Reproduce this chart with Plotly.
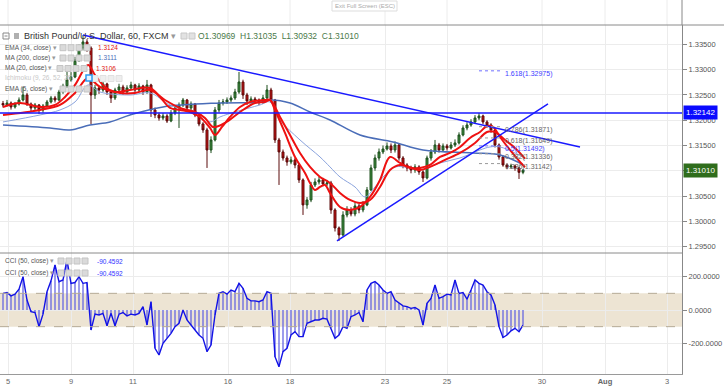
import plotly.graph_objects as go

# ---------------- data ----------------
closes = [1.32301,1.32340,1.32261,1.32320,1.32399,1.32498,1.32320,1.32241,1.32301,1.32202,
          1.32281,1.32360,1.32439,1.32399,1.32558,1.32676,1.32795,1.32854,1.33190,1.33427,
          1.33546,1.33427,1.32498,1.32637,1.32597,1.32716,1.32558,1.32439,1.32597,1.32656,
          1.32558,1.32637,1.32696,1.32597,1.32676,1.32558,1.32696,1.32202,1.32103,1.32044,
          1.32083,1.31984,1.32143,1.32241,1.32301,1.32399,1.32241,1.32320,1.32103,1.31925,
          1.31807,1.31411,1.31609,1.32202,1.32340,1.32360,1.32399,1.32439,1.32558,1.32755,
          1.32498,1.32380,1.32419,1.32399,1.32360,1.32439,1.32597,1.32399,1.31609,1.31372,
          1.31253,1.31174,1.31214,1.31115,1.30819,1.30325,1.30423,1.30720,1.30779,1.30819,
          1.30740,1.30759,1.30226,1.29870,1.29732,1.30127,1.30226,1.30147,1.30305,1.30226,
          1.30325,1.30621,1.31056,1.31253,1.31372,1.31431,1.31490,1.31411,1.31510,1.31253,
          1.31115,1.31056,1.31016,1.31076,1.30977,1.30858,1.31253,1.31372,1.31510,1.31411,
          1.31490,1.31451,1.31510,1.31550,1.31708,1.31846,1.31905,1.31965,1.32044,1.32083,
          1.31965,1.31905,1.31807,1.31510,1.31273,1.31115,1.31076,1.31095,1.31056,1.30969,
          1.31010]
highs = [1.32380,1.32400,1.32370,1.32360,1.32450,1.32656,1.32540,1.32350,1.32340,1.32320,
         1.32320,1.32400,1.32480,1.32480,1.32600,1.32720,1.32992,1.32950,1.33250,1.33500,
         1.33684,1.33600,1.33460,1.32700,1.32680,1.32780,1.32740,1.32600,1.32640,1.32720,
         1.32700,1.32690,1.32760,1.32720,1.32730,1.32700,1.32795,1.32720,1.32250,1.32150,
         1.32140,1.32120,1.32200,1.32300,1.32350,1.32439,1.32420,1.32370,1.32340,1.32140,
         1.31960,1.31850,1.31680,1.32260,1.32400,1.32420,1.32450,1.32490,1.32620,1.32953,
         1.32800,1.32540,1.32470,1.32460,1.32430,1.32500,1.32696,1.32640,1.32420,1.31650,
         1.31420,1.31300,1.31280,1.31250,1.31150,1.30850,1.30480,1.30780,1.30850,1.30880,
         1.30860,1.30820,1.30800,1.30260,1.29900,1.30200,1.30300,1.30280,1.30380,1.30350,
         1.30400,1.30680,1.31120,1.31320,1.31440,1.31500,1.31560,1.31540,1.31580,1.31540,
         1.31290,1.31150,1.31100,1.31130,1.31110,1.31010,1.31300,1.31430,1.31609,1.31550,
         1.31540,1.31530,1.31570,1.31620,1.31760,1.31900,1.31960,1.32020,1.32100,1.32143,
         1.32110,1.32000,1.31940,1.31850,1.31540,1.31300,1.31150,1.31140,1.31120,1.31080,
         1.31035]
lows = [1.32250,1.32270,1.32210,1.32230,1.32290,1.32370,1.32280,1.32180,1.32200,1.32123,
        1.32150,1.32250,1.32330,1.32350,1.32380,1.32520,1.32640,1.32760,1.32830,1.33150,
        1.33380,1.33350,1.31925,1.32420,1.32520,1.32560,1.32500,1.32340,1.32400,1.32560,
        1.32500,1.32520,1.32600,1.32540,1.32560,1.32500,1.32520,1.32064,1.32040,1.31990,
        1.32000,1.31945,1.31960,1.32100,1.31846,1.32260,1.32200,1.32200,1.32060,1.31880,
        1.31750,1.31056,1.31350,1.31580,1.32150,1.32290,1.32320,1.32350,1.32400,1.32520,
        1.32420,1.32300,1.32330,1.32340,1.32300,1.32320,1.32400,1.32340,1.31550,1.30720,
        1.31200,1.31100,1.31130,1.31050,1.30760,1.30127,1.30250,1.30380,1.30680,1.30730,
        1.30690,1.30700,1.30150,1.29800,1.29613,1.29700,1.30080,1.30100,1.30100,1.30160,
        1.30180,1.30300,1.30600,1.31000,1.31200,1.31330,1.31400,1.31350,1.31360,1.31200,
        1.31050,1.30990,1.30950,1.30960,1.30920,1.30779,1.30830,1.31200,1.31330,1.31360,
        1.31380,1.31400,1.31420,1.31470,1.31520,1.31680,1.31800,1.31870,1.31930,1.32000,
        1.31920,1.31850,1.31750,1.31460,1.31220,1.31080,1.31030,1.31040,1.31000,1.30838,
        1.30932]
first_open = 1.32330
opens = [first_open] + closes[:-1]
bars = list(range(len(closes)))

cci = [100,105,85,95,125,200,60,-10,-15,-100,
       -25,110,175,270,170,180,300,160,165,200,
       160,165,-120,-25,-30,-20,-95,-20,-95,-25,
       -15,-35,-25,-30,-20,20,-90,50,-230,-270,
       -200,-170,-140,-100,-80,0,-60,-90,-120,-150,
       -170,-250,-210,-30,100,110,95,120,110,160,
       130,70,55,55,50,60,110,100,-280,-340,
       -250,-230,-150,-130,-160,-160,-80,-70,-60,-60,
       -50,-55,-110,-170,-150,-100,-110,-40,-30,-15,
       -70,120,160,170,150,120,100,110,60,40,
       25,20,10,15,0,-90,40,70,150,70,
       80,95,90,180,100,105,65,120,180,160,
       150,110,90,30,-100,-165,-150,-125,-110,-130,
       -90.4592]

fast_x = [0,4.25,9.25,13,15.5,18,21.25,23,25.5,28,31.75,36.75,39.25,41.75,44.25,46.75,49.25,51.75,53,54.75,
          56.75,59.25,61.75,65.5,66.75,68,70.5,73,75.5,76.75,78,79.25,80.5,81.75,84.25,86.75,89.25,91.75,94.25,96.75,
          99.25,101.75,104.25,106.75,109.25,111.75,114.25,116.75,119.25,121,122.5,124.25,126.75,129.25,130.5]
fast_y = [1.32261,1.32340,1.32261,1.32301,1.32459,1.32696,1.33091,1.32893,1.32656,1.32558,
          1.32597,1.32637,1.32459,1.32241,1.32202,1.32162,1.32064,1.31846,1.31708,1.31866,
          1.32064,1.32261,1.32360,1.32399,1.32399,1.32202,1.31747,1.31273,1.30957,1.30759,
          1.30621,1.30680,1.30720,1.30562,1.30285,1.30226,1.30285,1.30483,1.30819,1.31273,
          1.31155,1.31056,1.31056,1.31115,1.31273,1.31352,1.31471,1.31649,1.31767,1.31886,
          1.31866,1.31668,1.31411,1.31174,1.31070]
slow_x = [0,9.25,14.25,18,21.25,24.25,29.25,33,36.75,40.5,44.25,48,50.5,52.5,55.5,59.25,63,65.5,66.75,69.25,
          71.75,74.25,76.75,79.25,81.75,84.25,86.75,89.25,91.75,94.25,96.75,99.25,104.25,106.75,110.5,114.25,
          118,121,123,125.5,128,130.5]
slow_y = [1.32103,1.32202,1.32301,1.32538,1.32834,1.32656,1.32538,1.32538,1.32597,1.32399,
          1.32241,1.32162,1.32044,1.31866,1.31945,1.32162,1.32340,1.32360,1.32399,1.32064,
          1.31708,1.31352,1.31076,1.30878,1.30759,1.30562,1.30423,1.30364,1.30423,1.30680,
          1.31016,1.31115,1.31016,1.31076,1.31214,1.31352,1.31550,1.31767,1.31767,1.31609,
          1.31451,1.31240]
ichi_x = [0,9.25,14.25,18,21.25,24.25,31.75,36.75,41.75,49.25,51.75,54.25,58,64.25,66.75,69.25,74.25,79.25,
          81.75,84.25,88,90.5,93,95.5,98,101.75,104.25,109.25,114.25,119.25,121.75,124.25,128,130.5]
ichi_y = [1.31965,1.32103,1.32202,1.32360,1.32696,1.32558,1.32498,1.32538,1.32301,1.32103,
          1.31965,1.32064,1.32162,1.32301,1.32360,1.32004,1.31609,1.31273,1.31076,1.30878,
          1.30680,1.30483,1.30680,1.30917,1.31076,1.31056,1.31016,1.31155,1.31253,1.31411,
          1.31471,1.31471,1.31352,1.31253]
ma200_x = [0,11.75,16.75,21.75,26.75,31.75,40,54.25,65,66.75,71.75,76.75,81.75,89.25,97.5,105,117.5,124.25,130]
ma200_y = [1.31905,1.31846,1.31807,1.31905,1.31965,1.32103,1.32261,1.32340,1.32360,1.32399,
           1.32340,1.32162,1.32004,1.31708,1.31570,1.31411,1.31352,1.31313,1.31120]

desc_x = [20, 144.25]
desc_y = [1.33684, 1.31471]
asc_x = [83.5, 136.25]
asc_y = [1.29613, 1.32320]
hline_level = 1.32142
last_close = 1.31010

fib_ratios = ["0.786", "0.618", "0.5", "0.382", "0.236", "1.618"]
fib_levels = [1.31871, 1.31649, 1.31492, 1.31336, 1.31142, 1.32975]
fib_x = [119, 124.25]

tick_bars = [1.25, 17, 32.5, 56.25, 71.75, 95.5, 111, 134.75, 150.5, 166]
tick_text = ["5", "9", "11", "16", "18", "23", "25", "30", "<b>Aug</b>", "3"]
price_ticks = [1.295, 1.300, 1.305, 1.310, 1.315, 1.320, 1.325, 1.330, 1.335]
# 1.31000 sits under the last-price label, so its text is hidden as in the reference
price_tick_text = ["1.29500", "1.30000", "1.30500", "", "1.31500", "1.32000", "1.32500", "1.33000", "1.33500"]
cci_ticks = [-200, 0, 200]
cci_tick_text = ["-200.0000", "0.0000", "200.0000"]

# ---------------- figure ----------------
FONT = "Liberation Sans, Arial, sans-serif"
W, H = 724, 392
PL_R, PL_B = 682, 374
RED = "#ee1111"
MA_BLUE = "#4a6db8"
LINE_BLUE = "#1a1aff"


def px(x):
    return x / PL_R


def py(y):
    return (PL_B - y) / PL_B


fig = go.Figure()

fig.add_trace(go.Candlestick(
    x=bars, open=opens, high=highs, low=lows, close=closes,
    increasing=dict(line=dict(color="#1d4f1d", width=1), fillcolor="#3d8f3d"),
    decreasing=dict(line=dict(color="#5a0a0a", width=1), fillcolor="#d01010"),
    whiskerwidth=0, xaxis="x", yaxis="y", hoverinfo="skip"))

fig.add_trace(go.Scatter(x=ma200_x, y=ma200_y, mode="lines", line=dict(color=MA_BLUE, width=1.5, shape="spline"),
                         xaxis="x", yaxis="y"))
fig.add_trace(go.Scatter(x=ichi_x, y=ichi_y, mode="lines", line=dict(color="#8aa3dd", width=1, shape="spline"),
                         xaxis="x", yaxis="y"))
fig.add_trace(go.Scatter(x=slow_x, y=slow_y, mode="lines", line=dict(color=RED, width=2, shape="spline"),
                         xaxis="x", yaxis="y"))
fig.add_trace(go.Scatter(x=fast_x, y=fast_y, mode="lines", line=dict(color=RED, width=2, shape="spline"),
                         xaxis="x", yaxis="y"))

# trend lines
fig.add_trace(go.Scatter(x=desc_x, y=desc_y, mode="lines", line=dict(color=LINE_BLUE, width=1.5),
                         xaxis="x", yaxis="y"))
fig.add_trace(go.Scatter(x=asc_x, y=asc_y, mode="lines", line=dict(color=LINE_BLUE, width=1.5),
                         xaxis="x", yaxis="y"))

# fib levels
for r, lv in zip(fib_ratios, fib_levels):
    fig.add_trace(go.Scatter(x=fib_x, y=[lv, lv], mode="lines",
                             line=dict(color="#9a9a9a" if r not in ("0.5", "1.618") else "#7070ff",
                                       width=1, dash="dot"),
                             xaxis="x", yaxis="y"))
    col = "#4040ff" if r in ("0.5", "1.618") else "#666666"
    fig.add_annotation(x=125, y=lv, xref="x", yref="y", text=f"{r}({lv:.5f})", showarrow=False,
                       xanchor="left", yanchor="middle", yshift=-3,
                       font=dict(size=7, color=col, family=FONT))

# CCI
fig.add_trace(go.Bar(x=bars, y=cci, marker=dict(color="rgba(95,95,225,0.62)", line=dict(width=0)),
                     width=0.6, xaxis="x2", yaxis="y2"))
fig.add_trace(go.Scatter(x=bars, y=cci, mode="lines", line=dict(color="#1212e6", width=1.4),
                         xaxis="x2", yaxis="y2"))

dom_split = py(253)
dom_top = py(25)

fig.update_layout(
    width=W, height=H,
    margin=dict(l=0, r=W - PL_R, t=0, b=H - PL_B),
    paper_bgcolor="white", plot_bgcolor="white",
    showlegend=False, hovermode=False, bargap=0,
    font=dict(family=FONT, size=8, color="#555"),
    xaxis=dict(domain=[0, 1], range=[-0.75, 169.75], anchor="y", matches="x2",
               showticklabels=False, tickvals=tick_bars, showgrid=True, gridcolor="#ececec",
               zeroline=False, rangeslider=dict(visible=False), showline=False),
    xaxis2=dict(domain=[0, 1], range=[-0.75, 169.75], anchor="y2",
                tickvals=tick_bars, ticktext=tick_text, showgrid=True, gridcolor="#ececec",
                zeroline=False, showline=True, linecolor="#9a9a9a", linewidth=1, ticks="",
                tickfont=dict(size=7.5, color="#666", family=FONT)),
    yaxis=dict(domain=[dom_split, dom_top], range=[1.29375, 1.33881], side="right",
               tickvals=price_ticks, ticktext=price_tick_text, ticks="outside", ticklen=4, tickcolor="#888",
               showline=True, linecolor="#888", showgrid=True, gridcolor="#ececec", zeroline=False,
               tickfont=dict(size=7.5, color="#555", family=FONT)),
    yaxis2=dict(domain=[0, dom_split], range=[-384, 342], side="right",
                tickvals=cci_ticks, ticktext=cci_tick_text, ticks="outside", ticklen=4, tickcolor="#888",
                showline=True, linecolor="#888", showgrid=True, gridcolor="#ececec", zeroline=False,
                tickfont=dict(size=7.5, color="#555", family=FONT)),
)

shapes = []
# CCI band
shapes.append(dict(type="rect", xref="paper", yref="y2", x0=0, x1=1, y0=-100, y1=100,
                   fillcolor="#ede4d3", line=dict(width=0), layer="below"))
for lv in (-100, 100):
    shapes.append(dict(type="line", xref="paper", yref="y2", x0=0, x1=1, y0=lv, y1=lv,
                       line=dict(color="#b5aa96", width=1, dash="dash")))
# horizontal resistance
shapes.append(dict(type="line", xref="paper", yref="y", x0=0, x1=1, y0=hline_level, y1=hline_level,
                   line=dict(color=LINE_BLUE, width=1.5)))
# pane separators and frame
shapes.append(dict(type="line", xref="paper", yref="paper", x0=0, x1=W / PL_R, y0=dom_top, y1=dom_top,
                   line=dict(color="#8a8a8a", width=1)))
shapes.append(dict(type="line", xref="paper", yref="paper", x0=0, x1=1, y0=dom_split, y1=dom_split,
                   line=dict(color="#8a8a8a", width=1)))
shapes.append(dict(type="line", xref="paper", yref="paper", x0=1, x1=1, y0=dom_top, y1=1,
                   line=dict(color="#888", width=1)))
for tb in tick_bars:
    shapes.append(dict(type="line", xref="x", yref="paper", x0=tb, x1=tb, y0=dom_top, y1=1,
                       line=dict(color="#ececec", width=1), layer="below"))
# legend icons
shapes.append(dict(type="rect", xref="paper", yref="paper", x0=px(3), x1=px(9), y0=py(39), y1=py(33),
                   line=dict(color="#888", width=1), fillcolor="white"))
shapes.append(dict(type="line", xref="paper", yref="paper", x0=px(4.5), x1=px(7.5), y0=py(36), y1=py(36),
                   line=dict(color="#888", width=1)))
shapes.append(dict(type="rect", xref="paper", yref="paper", x0=px(14), x1=px(19), y0=py(39), y1=py(33),
                   line=dict(width=0), fillcolor="#b0b0b0"))
for xx in (181, 189):
    shapes.append(dict(type="rect", xref="paper", yref="paper", x0=px(xx), x1=px(xx + 6), y0=py(39), y1=py(33),
                       line=dict(color="#c8c8c8", width=1), fillcolor="#e2e2e2"))


def icon_row(y, x0, fill="#dadada", edge="#c4c4c4"):
    for k in range(4):
        xx = x0 + k * 8
        shapes.append(dict(type="rect", xref="paper", yref="paper", x0=px(xx), x1=px(xx + 6),
                           y0=py(y + 3), y1=py(y - 3), line=dict(color=edge, width=1), fillcolor=fill))


icon_row(47.7, 60)
icon_row(58, 60)
icon_row(68.5, 57)
icon_row(78.5, 92, "#eeeeee", "#e0e0e0")
icon_row(89, 60)
icon_row(261, 58)
icon_row(273, 58)
# Ichimoku marker square
shapes.append(dict(type="rect", xref="paper", yref="paper", x0=px(86), x1=px(92), y0=py(81), y1=py(75),
                   line=dict(color="#2a9df4", width=1.5), fillcolor="#e6f3ff"))
# exit full screen box
shapes.append(dict(type="rect", xref="paper", yref="paper", x0=px(332), x1=px(397), y0=py(11), y1=py(1),
                   line=dict(color="#dddddd", width=1), fillcolor="white"))
fig.update_layout(shapes=shapes)


def txt(x, y, s, size, color, anchor="left"):
    fig.add_annotation(xref="paper", yref="paper", x=px(x), y=py(y), text=s, showarrow=False,
                       xanchor=anchor, yanchor="middle", borderpad=0,
                       font=dict(size=size, color=color, family=FONT))


ARROW = ' <span style="color:#999">▾</span>'
txt(23, 36, "British Pound/U.S. Dollar, 60, FXCM" + ARROW, 9, "#333")
txt(197, 36, "O1.30969  H1.31035  L1.30932  C1.31010", 8.5, "#4a7a4a")
txt(4, 47.7, "EMA (34, close)" + ARROW, 6.5, "#555")
txt(97, 47.7, "1.3124", 6.5, "#e01010")
txt(4, 58, "MA (200, close)" + ARROW, 6.5, "#555")
txt(97, 58, "1.3111", 6.5, MA_BLUE)
txt(4, 68.5, "MA (20, close)" + ARROW, 6.5, "#555")
txt(95, 68.5, "1.3106", 6.5, "#e01010")
txt(4, 78.5, "Ichimoku (9, 26, 52, 26)", 6.5, "#c8c8c8")
txt(4, 89, "EMA (5, close)" + ARROW, 6.5, "#555")
txt(4, 261, "CCI (50, close)" + ARROW, 6.5, "#555")
txt(96, 261, "-90.4592", 6.5, "#3030ff")
txt(4, 273, "CCI (50, close)" + ARROW, 6.5, "#555")
txt(96, 273, "-90.4592", 6.5, "#3030ff")
txt(364.5, 6, "Exit Full Screen (ESC)", 6, "#aaaaaa", anchor="center")

# last-value price labels on the axis
for lv, bg in ((hline_level, "#0a0aff"), (last_close, "#2f6d1c")):
    fig.add_annotation(xref="paper", yref="y", x=1, y=lv, text=f"{lv:.5f}", showarrow=False,
                       xanchor="left", yanchor="middle", xshift=1, bgcolor=bg, borderpad=2,
                       font=dict(size=8, color="white", family=FONT))

fig.write_html("out.html", config={"displayModeBar": False},
               post_script="document.body.style.margin='0';document.body.style.overflow='hidden';")
